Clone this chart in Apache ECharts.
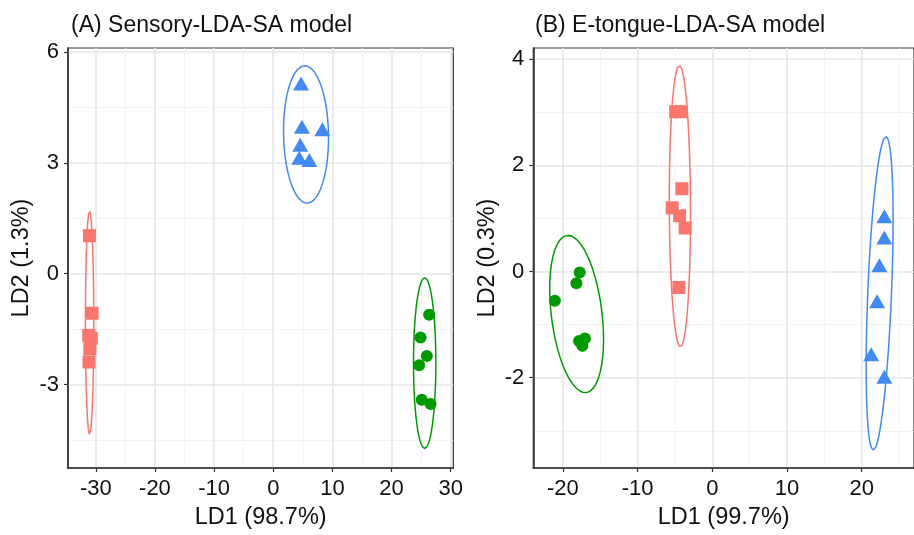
<!DOCTYPE html>
<html><head><meta charset="utf-8">
<script src="https://cdn.jsdelivr.net/npm/echarts@6/dist/echarts.min.js"></script>
<style>html,body{margin:0;padding:0;background:#fff}#c{width:914px;height:535px}</style>
</head><body><div id="c"></div>
<script>
const FONT = "'Liberation Sans', Arial, sans-serif";
const RED = '#F8766D', GREEN = '#009A00', BLUE = '#4289F0';

// Panel titles and axis names
const titles = ['(A) Sensory-LDA-SA model', '(B) E-tongue-LDA-SA model'];
const xNames = ['LD1 (98.7%)', 'LD1 (99.7%)'];
const yNames = ['LD2 (1.3%)', 'LD2 (0.3%)'];

// Axis ranges and ticks
const xRangeA = [-34.7, 30.44];
const yRangeA = [-5.26, 6.11];
const xMajorA = [-30, -20, -10, 0, 10, 20, 30];
const xMinorA = [-25, -15, -5, 5, 15, 25];
const yMajorA = [-3, 0, 3, 6];
const yMinorA = [-4.5, -1.5, 1.5, 4.5];

const xRangeB = [-23.95, 27];
const yRangeB = [-3.70, 4.21];
const xMajorB = [-20, -10, 0, 10, 20];
const xMinorB = [-15, -5, 5, 15, 25];
const yMajorB = [-2, 0, 2, 4];
const yMinorB = [-3, -1, 1, 3];

// Panel A points [LD1, LD2]
const redA = [[-31.08, 1.03], [-30.63, -1.07], [-31.2, -1.67], [-30.76, -1.75], [-31.0, -2.03], [-31.15, -2.39]];
const greenA = [[26.35, -1.11], [24.9, -1.73], [25.96, -2.23], [24.66, -2.48], [25.1, -3.41], [26.6, -3.53]];
const blueA = [[4.7, 5.15], [4.85, 3.98], [8.3, 3.91], [4.56, 3.49], [4.4, 3.14], [6.1, 3.08]];

// Panel B points [LD1, LD2]
const redB = [[-4.9, 3.01], [-4.2, 3.01], [-4.06, 1.56], [-5.37, 1.20], [-4.37, 1.05], [-3.63, 0.82], [-4.46, -0.30]];
const greenB = [[-17.74, -0.02], [-18.18, -0.22], [-21.06, -0.55], [-17.83, -1.31], [-17.04, -1.26], [-17.39, -1.40]];
const blueB = [[23.03, 1.04], [23.03, 0.64], [22.37, 0.12], [22.06, -0.56], [21.27, -1.56], [23.03, -1.98]];

// Ellipses: [centre LD1, centre LD2, half-width, half-height, tilt (sine)]
const ellRedA = [-31.05, -1.33, 0.70, 3.02, 0.0];
const ellGreenA = [25.6, -2.42, 1.89, 2.31, 0.0];
const ellBlueA = [5.54, 3.77, 3.80, 1.86, -0.05];
const ellRedB = [-4.33, 1.23, 1.42, 2.65, -0.05];
const ellGreenB = [-18.15, -0.80, 3.60, 1.48, -0.32];
const ellBlueB = [22.4, -0.41, 1.80, 2.95, 0.47];

function ellipsePoints(p) {
  const [cx, cy, rx, ry, s] = p;
  const phi = Math.asin(s);
  const pts = [];
  for (let i = 0; i <= 160; i++) {
    const t = 2 * Math.PI * i / 160;
    pts.push([cx + rx * Math.cos(t), cy + ry * Math.sin(t + phi)]);
  }
  return pts;
}

const MAJOR = '#e6e6e6', MINOR = '#f2f2f2', DARK = '#333333';

function majorAxis(grid, range, major, name, isX, gap) {
  return {
    type: 'value', gridIndex: grid, min: range[0], max: range[1],
    position: isX ? 'bottom' : 'left',
    name: name, nameLocation: 'middle', nameGap: gap,
    nameTextStyle: { fontSize: 23.5, color: '#111', fontFamily: FONT },
    axisLine: { show: true, onZero: false, lineStyle: { color: DARK, width: 1.6 } },
    axisTick: { show: true, customValues: major, length: 4, lineStyle: { color: DARK, width: 1.2 } },
    axisLabel: { show: true, customValues: major, fontSize: 22, color: '#111', fontFamily: FONT, margin: isX ? 10 : 9 },
    splitLine: { show: true, lineStyle: { color: MAJOR, width: 1.6 } },
    minorSplitLine: { show: false }
  };
}
function minorAxis(grid, range, minor, isX) {
  return {
    type: 'value', gridIndex: grid, min: range[0], max: range[1],
    position: isX ? 'top' : 'right',
    axisLine: { show: false },
    axisTick: { show: false, customValues: minor },
    axisLabel: { show: false, customValues: minor },
    splitLine: { show: true, lineStyle: { color: MINOR, width: 0.9 } }
  };
}

function scatter(data, color, symbol, size, xi, yi) {
  return { type: 'scatter', data: data, xAxisIndex: xi, yAxisIndex: yi, symbol: symbol, symbolSize: size,
    itemStyle: { color: color, opacity: 1 }, z: 5, silent: true };
}
function ellipse(p, color, xi, yi) {
  return { type: 'line', data: ellipsePoints(p), xAxisIndex: xi, yAxisIndex: yi, showSymbol: false, symbol: 'none',
    smooth: false, lineStyle: { color: color, width: 1.5 }, z: 4, silent: true, clip: true };
}

const chart = echarts.init(document.getElementById('c'), null, { renderer: 'canvas' });
chart.setOption({
  animation: false,
  backgroundColor: '#ffffff',
  textStyle: { fontFamily: FONT },
  title: [
    { text: titles[0], left: 66, top: 9, textStyle: { fontSize: 23, fontWeight: 'normal', color: '#111', fontFamily: FONT } },
    { text: titles[1], left: 530, top: 9, textStyle: { fontSize: 23, fontWeight: 'normal', color: '#111', fontFamily: FONT } }
  ],
  grid: [
    { left: 68, top: 48, width: 385.3, height: 423, show: true, borderColor: DARK, borderWidth: 1.2, containLabel: false },
    { left: 533.3, top: 48, width: 389, height: 423, show: true, borderColor: DARK, borderWidth: 1.2, containLabel: false }
  ],
  xAxis: [
    majorAxis(0, xRangeA, xMajorA, xNames[0], true, 38),
    minorAxis(0, xRangeA, xMinorA, true),
    majorAxis(1, xRangeB, xMajorB, xNames[1], true, 38),
    minorAxis(1, xRangeB, xMinorB, true)
  ],
  yAxis: [
    majorAxis(0, yRangeA, yMajorA, yNames[0], false, 34),
    minorAxis(0, yRangeA, yMinorA, false),
    majorAxis(1, yRangeB, yMajorB, yNames[1], false, 34),
    minorAxis(1, yRangeB, yMinorB, false)
  ],
  series: [
    ellipse(ellRedA, RED, 0, 0),
    ellipse(ellGreenA, GREEN, 0, 0),
    ellipse(ellBlueA, BLUE, 0, 0),
    scatter(redA, RED, 'rect', 13, 0, 0),
    scatter(greenA, GREEN, 'circle', 12, 0, 0),
    scatter(blueA, BLUE, 'triangle', [16, 14], 0, 0),
    ellipse(ellRedB, RED, 2, 2),
    ellipse(ellGreenB, GREEN, 2, 2),
    ellipse(ellBlueB, BLUE, 2, 2),
    scatter(redB, RED, 'rect', 13, 2, 2),
    scatter(greenB, GREEN, 'circle', 12, 2, 2),
    scatter(blueB, BLUE, 'triangle', [16, 14], 2, 2)
  ]
});
</script></body></html>
